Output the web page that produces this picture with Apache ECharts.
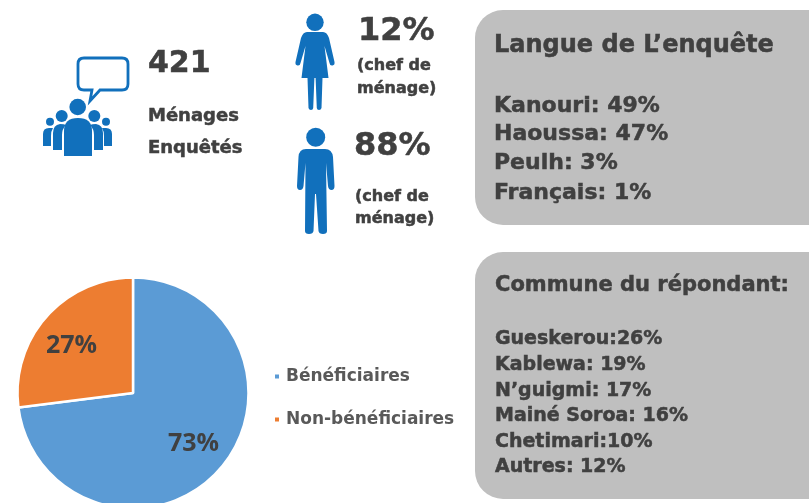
<!DOCTYPE html>
<html><head><meta charset="utf-8">
<style>html,body{margin:0;padding:0;background:#fff}#c{width:809px;height:503px}</style>
<script src="https://cdn.jsdelivr.net/npm/echarts@6/dist/echarts.min.js"></script>
</head><body><div id="c"></div>
<script>
const pieCategories = ['Bénéficiaires', 'Non-bénéficiaires'];
const pieValues = [73, 27];
const householdCount = '421';
const householdLines = ['Ménages', 'Enquêtés'];
const womenShare = '12%';
const menShare = '88%';
const headLines = ['(chef de', 'ménage)'];
const languageTitle = 'Langue de L’enquête';
const languageLines = ['Kanouri: 49%', 'Haoussa: 47%', 'Peulh: 3%', 'Français: 1%'];
const communeTitle = 'Commune du répondant:';
const communeLines = ['Gueskerou:26%', 'Kablewa: 19%', 'N’guigmi: 17%', 'Mainé Soroa: 16%', 'Chetimari:10%', 'Autres: 12%'];

const FONT = '"DejaVu Sans", Verdana, sans-serif';
const INK = '#404040', BLUE = '#1170BC', PANEL = '#BFBFBF';
const txt = (t, x, y, size, color) => ({type:'text', z:5, style:{text:t, x, y, font:`bold ${size}px ${FONT}`, fill:color||INK, stroke:color||INK, lineWidth:0.5, textAlign:'left', textVerticalAlign:'middle'}});
const head = (cx, cy, r) => ({type:'circle', shape:{cx, cy, r}, style:{fill:BLUE}});
const shape = d => ({type:'path', shape:{pathData:d}, style:{fill:BLUE}});
const icons = [
  {type:'path', shape:{pathData:'M84 58 H122 Q128 58 128 64 V84 Q128 90 122 90 H100 L90 101 L92 90 H84 Q78 90 78 84 V64 Q78 58 84 58 Z'}, style:{fill:'none', stroke:BLUE, lineWidth:2.8}},
  head(77.7,107,8.3), head(61.7,116,6), head(94.3,116,6), head(50,121.7,4), head(106,121.7,4),
  shape('M64 156 V131 Q64 118 78 118 Q92 118 92 131 V156 Z'),
  shape('M53 150 V133 Q53 125 60 124 Q64 124 66 125 Q62 129 62 135 V150 Z'),
  shape('M103 150 V133 Q103 125 96 124 Q92 124 90 125 Q94 129 94 135 V150 Z'),
  shape('M43 146 V134 Q43 128 49 128 L53 128 Q51 131 51 136 V146 Z'),
  shape('M112 146 V134 Q112 128 106 128 L102 128 Q104 131 104 136 V146 Z'),
  head(315,22.3,8.7),
  shape('M307 32 H323 Q327 32 329 38 L334.5 62 Q335 65 332.5 65.5 Q330 66 329.5 63 L324.5 46 L328.5 78 H322.5 L321.5 108 Q321 110 319 110 Q317 110 316.8 108 L315.6 78 H314.4 L313.2 108 Q313 110 311 110 Q309 110 308.5 108 L307.5 78 H301.5 L305.5 46 L300.5 63 Q300 66 297.5 65.5 Q295 65 295.5 62 L301 38 Q303 32 307 32 Z'),
  head(315.7,137.3,9.5),
  shape('M306 149 H325 Q332 149 333 157 L334.5 186 Q334.5 190 331.5 190 Q328.5 190 328 186 L326 163 L327 231 Q327 234 323 234 Q319 234 318.5 231 L316 194 H315 L313.5 231 Q313 234 309 234 Q305 234 305 231 L305.5 163 L303.5 186 Q303 190 300 190 Q297 190 297 186 L298.5 157 Q299 149 306 149 Z')
];

const chart = echarts.init(document.getElementById('c'), null, {renderer:'canvas'});
chart.setOption({
  animation:false,
  backgroundColor:'#fff',
  color:['#5B9BD5','#ED7D31'],
  legend:{
    orient:'vertical', left:273, top:368, padding:0, itemWidth:6, itemHeight:6, itemGap:26, icon:'rect',
    data:pieCategories,
    textStyle:{fontFamily:FONT, fontWeight:'bold', fontSize:17, color:'#595959', padding:[0,0,0,1]}
  },
  series:[{
    type:'pie', center:[133,393], radius:[0,115.5], startAngle:90, clockwise:true, silent:true,
    data:pieCategories.map((n,i)=>({name:n, value:pieValues[i]})),
    itemStyle:{borderColor:'#fff', borderWidth:2.5},
    label:{show:true, position:'inside', formatter:'{c}%', fontFamily:'"Open Sans", sans-serif', fontWeight:'bold', fontSize:25, color:INK},
    labelLine:{show:false},
    labelLayout:p => p.dataIndex===0 ? {dx:15, dy:11} : {dx:-16, dy:-7}
  },{
    type:'custom', coordinateSystem:'none', silent:true, data:[[0]], z:6,
    renderItem:() => ({type:'group', children:icons})
  }],
  graphic:{elements:[
    {type:'rect', z:-1, shape:{x:475,y:10,width:370,height:215,r:28}, style:{fill:PANEL}},
    {type:'rect', z:-1, shape:{x:475,y:252,width:370,height:247,r:28}, style:{fill:PANEL}},
    txt(householdCount,148,64,30),
    txt(householdLines[0],148,116,18), txt(householdLines[1],148,148,18),
    txt(womenShare,358,32,32),
    txt(headLines[0],357,66,16), txt(headLines[1],357,89,16),
    txt(menShare,354,147,32),
    txt(headLines[0],355,197,16), txt(headLines[1],355,219,16),
    txt(languageTitle,494,46,24),
    ...languageLines.map((t,i)=>txt(t,494,[106,134,163,193][i],22)),
    txt(communeTitle,495,286,21),
    ...communeLines.map((t,i)=>txt(t,495,[339,365,391,416,442,467][i],19))
  ]}
});
</script></body></html>
